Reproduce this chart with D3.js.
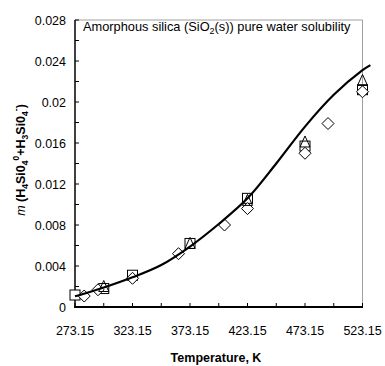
<!DOCTYPE html>
<html>
<head>
<style>
  body { margin: 0; background: #fff; }
  svg text { font-family: "Liberation Sans", Arial, sans-serif; }
</style>
<script src="https://d3js.org/d3.v7.min.js"></script>
</head>
<body>
<svg width="385" height="366"></svg>
<script>
// model curve (temperature K, molality)
const curveT = [273.15, 278.15, 298.15, 323.15, 348.15, 373.15, 398.15, 423.15, 448.15, 473.15, 498.15, 523.15, 530];
const curveM = [0.00105, 0.0012, 0.0019, 0.0029, 0.0041, 0.0059, 0.0081, 0.0106, 0.0140, 0.0176, 0.0207, 0.0231, 0.0236];

// measured data
const squareT = [273.15, 298.15, 323.15, 373.15, 423.15, 473.15, 523.15];
const squareM = [0.00117, 0.0018, 0.0031, 0.0062, 0.0106, 0.0157, 0.0212];
const triT = [298.15, 373.15, 423.15, 473.15, 523.15];
const triM = [0.0020, 0.0062, 0.0104, 0.0161, 0.0221];
const diaT = [281.15, 293.15, 323.15, 363.15, 403.15, 423.15, 473.15, 493.15, 523.15];
const diaM = [0.00107, 0.00168, 0.0028, 0.0052, 0.0080, 0.0096, 0.0150, 0.0179, 0.0210];

const xTicks = [273.15, 323.15, 373.15, 423.15, 473.15, 523.15];
const yTicks = [0, 0.004, 0.008, 0.012, 0.016, 0.02, 0.024, 0.028];

const svg = d3.select("svg");
const x = d3.scaleLinear().domain([273.15, 523.15]).range([75, 362.5]);
const y = d3.scaleLinear().domain([0, 0.028]).range([307, 20]);

// plot frame (top / right in grey)
svg.append("path")
  .attr("d", `M${x(273.15)},${y(0.028)}H${x(523.15)}V${y(0)}`)
  .attr("fill", "none").attr("stroke", "#a0a0a0").attr("stroke-width", 1);

// minor + major ticks, inside
const xMinor = d3.range(0, 11).map(i => 273.15 + i * 25);
const yMinor = d3.range(0, 15).map(i => i * 0.002);

svg.append("g").selectAll("line").data(xMinor).join("line")
  .attr("x1", d => x(d)).attr("x2", d => x(d))
  .attr("y1", y(0)).attr("y2", y(0) - 4)
  .attr("stroke", "#000").attr("stroke-width", 1);

svg.append("g").selectAll("line").data(yMinor).join("line")
  .attr("x1", x(273.15)).attr("x2", x(273.15) + 4)
  .attr("y1", d => y(d)).attr("y2", d => y(d))
  .attr("stroke", "#000").attr("stroke-width", 1);

// axis lines
svg.append("line").attr("x1", x(273.15)).attr("x2", x(273.15))
  .attr("y1", y(0.028)).attr("y2", y(0) + 1)
  .attr("stroke", "#000").attr("stroke-width", 1.5);
svg.append("line").attr("x1", x(273.15) - 0.75).attr("x2", x(523.15) + 0.5)
  .attr("y1", y(0)).attr("y2", y(0))
  .attr("stroke", "#000").attr("stroke-width", 1.8);

// tick labels
svg.append("g").selectAll("text").data(xTicks).join("text")
  .attr("x", d => x(d)).attr("y", 335)
  .attr("text-anchor", "middle").attr("font-size", 12.5)
  .text(d => d.toFixed(2));

svg.append("g").selectAll("text").data(yTicks).join("text")
  .attr("x", 66).attr("y", d => y(d) + 4.5)
  .attr("text-anchor", "end").attr("font-size", 12.5)
  .text(d => d === 0 ? "0" : String(d));

// axis titles
svg.append("text").attr("x", 216).attr("y", 362)
  .attr("text-anchor", "middle").attr("font-size", 12.5).attr("font-weight", "bold")
  .text("Temperature, K");

const yt = svg.append("text")
  .attr("transform", "translate(25,160) rotate(-90)")
  .attr("text-anchor", "middle").attr("font-size", 12.5).attr("font-weight", "bold");
yt.append("tspan").attr("font-style", "italic").attr("font-weight", "normal").text("m ");
yt.append("tspan").text(" (H");
yt.append("tspan").attr("font-size", 8.5).attr("dy", 3).text("4");
yt.append("tspan").attr("dy", -3).text("Si0");
yt.append("tspan").attr("font-size", 8.5).attr("dy", 3).text("4");
yt.append("tspan").attr("font-size", 8.5).attr("dy", -9).text("0");
yt.append("tspan").attr("dy", 6).text("+H");
yt.append("tspan").attr("font-size", 8.5).attr("dy", 3).text("3");
yt.append("tspan").attr("dy", -3).text("Si0");
yt.append("tspan").attr("font-size", 8.5).attr("dy", 3).text("4");
yt.append("tspan").attr("font-size", 8.5).attr("dy", -9).text("-");
yt.append("tspan").attr("dy", 6).text(")");

// chart label inside plot
const lab = svg.append("text").attr("x", 83).attr("y", 31).attr("font-size", 12.8);
lab.append("tspan").text("Amorphous silica (SiO");
lab.append("tspan").attr("font-size", 9).attr("dy", 3).text("2");
lab.append("tspan").attr("dy", -3).text("(s)) pure water solubility");

// markers
const sq = d3.zip(squareT, squareM);
const tr = d3.zip(triT, triM);
const di = d3.zip(diaT, diaM);

svg.append("g").selectAll("rect").data(sq).join("rect")
  .attr("x", d => x(d[0]) - 5).attr("y", d => y(d[1]) - 5)
  .attr("width", 10).attr("height", 10)
  .attr("fill", "#fff").attr("stroke", "#000").attr("stroke-width", 1);

svg.append("g").selectAll("path").data(di).join("path")
  .attr("d", d => { const cx = x(d[0]), cy = y(d[1]); return `M${cx},${cy - 6}L${cx + 6},${cy}L${cx},${cy + 6}L${cx - 6},${cy}Z`; })
  .attr("fill", "#fff").attr("stroke", "#000").attr("stroke-width", 1);

svg.append("g").selectAll("path").data(tr).join("path")
  .attr("d", d => { const cx = x(d[0]), cy = y(d[1]); return `M${cx},${cy - 6}L${cx + 5},${cy + 5}L${cx - 5},${cy + 5}Z`; })
  .attr("fill", "none").attr("stroke", "#000").attr("stroke-width", 1);

// model line
svg.append("path")
  .datum(d3.zip(curveT, curveM))
  .attr("d", d3.line().x(d => x(d[0])).y(d => y(d[1])).curve(d3.curveCatmullRom))
  .attr("fill", "none").attr("stroke", "#000").attr("stroke-width", 2.2);
</script>
</body>
</html>
